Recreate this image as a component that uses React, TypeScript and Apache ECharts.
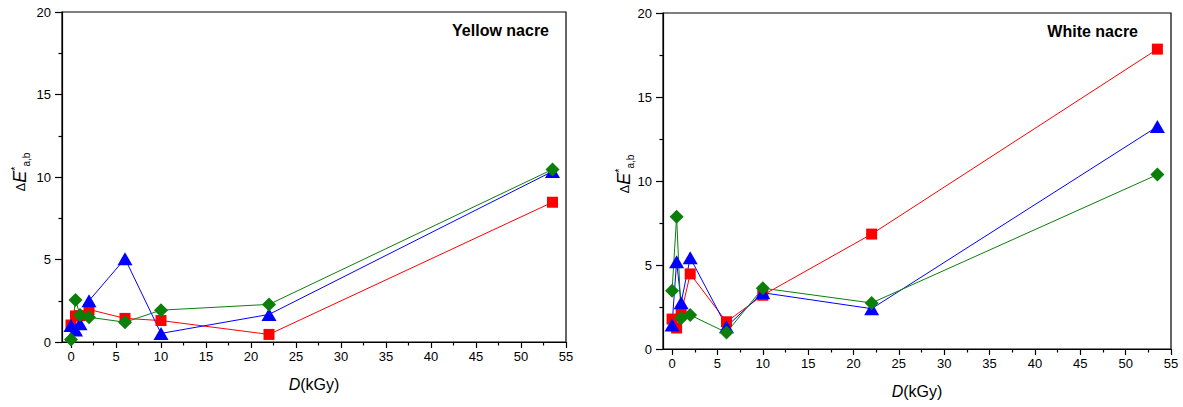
import React, { useEffect, useRef } from "react";
import * as echarts from "echarts";

const FONT = '"Liberation Sans", Arial, Helvetica, sans-serif';

const doses = [0, 0.5, 1, 2, 6, 10, 22, 53.5];

const yellowRed = [1.03, 1.58, 1.6, 1.97, 1.43, 1.3, 0.46, 8.47];
const yellowBlue = [1.0, 0.72, 1.1, 2.5, 5.05, 0.52, 1.67, 10.34];
const yellowGreen = [0.15, 2.55, 1.63, 1.5, 1.2, 1.93, 2.28, 10.46];

const whiteRed = [1.78, 1.25, 2.12, 4.47, 1.62, 3.2, 6.84, 17.85];
const whiteBlue = [1.43, 5.2, 2.76, 5.43, 1.33, 3.35, 2.4, 13.24];
const whiteGreen = [3.47, 7.87, 1.83, 2.02, 0.98, 3.62, 2.74, 10.38];

const xTicks = [0, 5, 10, 15, 20, 25, 30, 35, 40, 45, 50, 55];
const xMinorTicks = [2.5, 7.5, 12.5, 17.5, 22.5, 27.5, 32.5, 37.5, 42.5, 47.5, 52.5];
const yTicks = [0, 5, 10, 15, 20];

const panelTitles = ["Yellow nacre", "White nacre"];
const xName = "{i|D}(kGy)";
const yName = "{d|Δ}{e|E}{s|*}{b|a,b}";

const RED = "#ff0000";
const BLUE = "#0000ff";
const GREEN = "#0a7f0a";

function pairs(ys: number[]) {
  return doses.map((d, i) => [d, ys[i]]);
}

function mainX(gridIndex: number) {
  return {
    type: "value",
    gridIndex,
    position: "bottom",
    min: -1,
    max: 55,
    axisLine: { show: true, onZero: false, lineStyle: { color: "#000", width: 1.2 } },
    axisTick: { show: true, inside: false, length: 6, customValues: xTicks, lineStyle: { color: "#000", width: 1.2 } },
    axisLabel: { customValues: xTicks, fontSize: 13, color: "#000", fontFamily: FONT, margin: 8 },
    splitLine: { show: false },
    name: xName,
    nameLocation: "middle",
    nameGap: 34,
    nameTextStyle: {
      fontSize: 16,
      color: "#000",
      fontFamily: FONT,
      rich: { i: { fontStyle: "italic", fontSize: 16, fontFamily: FONT, color: "#000" } },
    },
  };
}

function minorX(gridIndex: number) {
  return {
    type: "value",
    gridIndex,
    position: "bottom",
    min: -1,
    max: 55,
    axisLine: { show: false, onZero: false },
    axisTick: { show: true, inside: false, length: 3.5, customValues: xMinorTicks, lineStyle: { color: "#000", width: 1.2 } },
    axisLabel: { show: false },
    splitLine: { show: false },
  };
}

function yAx(gridIndex: number) {
  return {
    type: "value",
    gridIndex,
    min: yTicks[0],
    max: yTicks[yTicks.length - 1],
    interval: 5,
    axisLine: { show: true, onZero: false, lineStyle: { color: "#000", width: 1.2 } },
    axisTick: { show: true, inside: false, length: 7, lineStyle: { color: "#000", width: 1.2 } },
    minorTick: { show: true, splitNumber: 2, length: 3.5, lineStyle: { color: "#000", width: 1.2 } },
    axisLabel: { fontSize: 13, color: "#000", fontFamily: FONT, margin: 11 },
    splitLine: { show: false },
    minorSplitLine: { show: false },
  };
}

function lineSeries(data: number[], xAxisIndex: number, yAxisIndex: number, color: string, symbol: string, size: any) {
  return {
    type: "line",
    xAxisIndex,
    yAxisIndex,
    data: pairs(data),
    symbol,
    symbolSize: size,
    showSymbol: true,
    lineStyle: { color, width: 1 },
    itemStyle: { color, borderWidth: 0 },
    emphasis: { disabled: true },
  };
}

function yLabel(x: number, y: number) {
  return {
    type: "text",
    x,
    y,
    rotation: Math.PI / 2,
    style: {
      text: yName,
      align: "center",
      verticalAlign: "middle",
      fill: "#000",
      fontFamily: FONT,
      fontSize: 13,
      rich: {
        d: { fontSize: 13, fontFamily: FONT, fill: "#000", lineHeight: 22, verticalAlign: "middle" },
        e: { fontSize: 18, fontStyle: "italic", fontFamily: FONT, fill: "#000", lineHeight: 22, verticalAlign: "middle" },
        s: { fontSize: 11, fontFamily: FONT, fill: "#000", lineHeight: 12, verticalAlign: "top" },
        b: { fontSize: 10, fontFamily: FONT, fill: "#000", lineHeight: 11, verticalAlign: "bottom" },
      },
    },
  };
}

function titleText(text: string, x: number, y: number) {
  return {
    type: "text",
    x,
    y,
    style: {
      text,
      align: "right",
      verticalAlign: "middle",
      fill: "#000",
      fontFamily: FONT,
      fontSize: 16,
      fontWeight: "bold",
    },
  };
}

export default function App() {
  const ref = useRef<HTMLDivElement>(null);
  useEffect(() => {
    if (!ref.current) return;
    const chart = echarts.init(ref.current, null, { renderer: "svg" });
    const option: any = {
      animation: false,
      backgroundColor: "#fff",
      grid: [
        { left: 62, top: 12, width: 504, height: 330, show: true, borderColor: "#000", borderWidth: 1.2, backgroundColor: "transparent" },
        { left: 663, top: 13, width: 508, height: 336, show: true, borderColor: "#000", borderWidth: 1.2, backgroundColor: "transparent" },
      ],
      xAxis: [mainX(0), minorX(0), mainX(1), minorX(1)],
      yAxis: [yAx(0), yAx(1)],
      series: [
        lineSeries(yellowRed, 0, 0, RED, "rect", [11, 11]),
        lineSeries(yellowBlue, 0, 0, BLUE, "triangle", [15, 13]),
        lineSeries(yellowGreen, 0, 0, GREEN, "diamond", [14, 14]),
        lineSeries(whiteRed, 2, 1, RED, "rect", [11, 11]),
        lineSeries(whiteBlue, 2, 1, BLUE, "triangle", [15, 13]),
        lineSeries(whiteGreen, 2, 1, GREEN, "diamond", [14, 14]),
      ],
      graphic: [
        titleText(panelTitles[0], 549, 30),
        titleText(panelTitles[1], 1138, 31),
        yLabel(20, 172),
        yLabel(624, 174),
      ],
    };
    chart.setOption(option);
    return () => chart.dispose();
  }, []);
  return <div ref={ref} style={{ position: "fixed", left: 0, top: 0, width: 1183, height: 407 }} />;
}
